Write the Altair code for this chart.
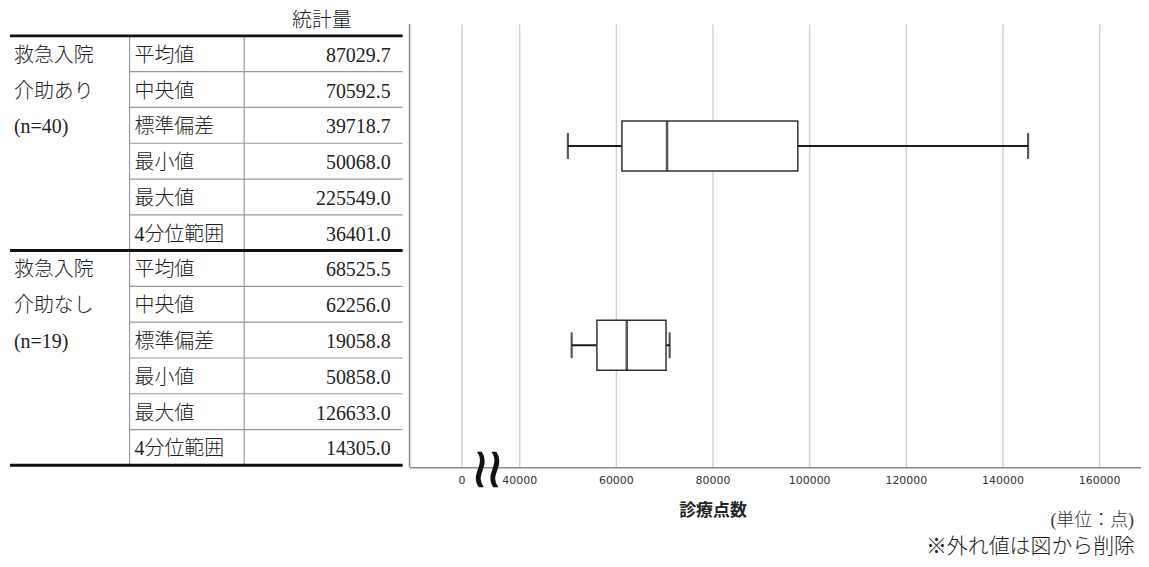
import altair as alt
import pandas as pd

# ---------------- data ----------------
groups = ["介助あり", "介助なし"]
group_label_lines = [["救急入院", "介助あり", "(n=40)"],
                     ["救急入院", "介助なし", "(n=19)"]]
stat_names = ["平均値", "中央値", "標準偏差", "最小値", "最大値", "4分位範囲"]
stats_ari = [87029.7, 70592.5, 39718.7, 50068.0, 225549.0, 36401.0]
stats_nashi = [68525.5, 62256.0, 19058.8, 50858.0, 126633.0, 14305.0]

# box plot (outliers removed)
whisker_low = [50068.0, 50858.0]
q1 = [61250.0, 56080.0]
median = [70592.5, 62256.0]
q3 = [97650.0, 70385.0]
whisker_high = [145300.0, 71130.0]

tick_values = [40000, 60000, 80000, 100000, 120000, 140000, 160000]

# broken axis: where "0" is drawn on the display scale
ZERO_POS = 28041
X_DOMAIN = [17320, 168660]

TXT = "#222222"
JP_SERIF = "Liberation Serif, Noto Sans CJK JP"

# ---------------- table ----------------
TW, H = 394, 445
ysc = alt.Scale(domain=[0, 12], range=[12, 443])

stat_rows, label_rows = [], []
for g, vals in enumerate([stats_ari, stats_nashi]):
    for i, (n, v) in enumerate(zip(stat_names, vals)):
        stat_rows.append({"r": g * 6 + i + 0.5, "name": n, "val": f"{v:.1f}"})
    for i, t in enumerate(group_label_lines[g]):
        label_rows.append({"r": g * 6 + i + 0.5, "text": t})
stat_df = pd.DataFrame(stat_rows)
label_df = pd.DataFrame(label_rows)

thin_df = pd.DataFrame({"b": [b for b in range(1, 12) if b != 6]})
thick_df = pd.DataFrame({"b": [0, 6, 12]})
vline_df = pd.DataFrame({"b0": [0], "b1": [12]})

base_t = alt.Chart(stat_df)

thin_lines = alt.Chart(thin_df).mark_rule(color="#9a9a9a", strokeWidth=1.2).encode(
    y=alt.Y("b:Q", scale=ysc, axis=None), x=alt.value(120), x2=alt.value(TW))
vlines = alt.Chart(vline_df).mark_rule(color="#9a9a9a", strokeWidth=1.2).encode(
    y=alt.Y("b0:Q", scale=ysc, axis=None), y2="b1:Q", x=alt.value(120))
vlines2 = alt.Chart(vline_df).mark_rule(color="#9a9a9a", strokeWidth=1.2).encode(
    y=alt.Y("b0:Q", scale=ysc, axis=None), y2="b1:Q", x=alt.value(235))
thick_lines = alt.Chart(thick_df).mark_rule(color="#111111", strokeWidth=3).encode(
    y=alt.Y("b:Q", scale=ysc, axis=None), x=alt.value(0), x2=alt.value(TW))

names_txt = base_t.mark_text(align="left", baseline="middle", dy=2, font=JP_SERIF,
                             fontSize=20, fontWeight=300, color=TXT).encode(
    y=alt.Y("r:Q", scale=ysc, axis=None), x=alt.value(125), text="name:N")
vals_txt = base_t.mark_text(align="right", baseline="middle", dy=2, font="Liberation Serif",
                            fontSize=20, color=TXT).encode(
    y=alt.Y("r:Q", scale=ysc, axis=None), x=alt.value(382), text="val:N")
labels_txt = alt.Chart(label_df).mark_text(align="left", baseline="middle", dy=2, font=JP_SERIF,
                                           fontSize=20, fontWeight=300, color=TXT).encode(
    y=alt.Y("r:Q", scale=ysc, axis=None), x=alt.value(4), text="text:N")
header = alt.Chart(pd.DataFrame({"t": ["統計量"]})).mark_text(
    align="center", baseline="middle", font=JP_SERIF, fontSize=20, fontWeight=300,
    color=TXT).encode(x=alt.value(313), y=alt.value(-3), text="t:N")

table = alt.layer(thin_lines, vlines, vlines2, thick_lines, names_txt, vals_txt,
                  labels_txt, header).properties(width=TW, height=H)

# ---------------- box plot ----------------
BW = 734
box_df = pd.DataFrame({"group": groups, "low": whisker_low, "q1": q1,
                       "med": median, "q3": q3, "high": whisker_high})
xsc = alt.Scale(domain=X_DOMAIN, nice=False, zero=False)
ysc_b = alt.Scale(type="point", domain=groups, padding=0.6125)
yenc = alt.Y("group:N", scale=ysc_b, axis=None, sort=groups)

label_expr = f"datum.value < {(ZERO_POS + 40000) / 2} ? '0' : format(datum.value, 'd')"
x_axis = alt.Axis(values=[ZERO_POS] + tick_values, labelExpr=label_expr,
                  grid=True, gridColor="#d2d2d2", gridWidth=1.5,
                  domainColor="#8a8a8a", domainWidth=1.5, ticks=False,
                  labelFont="DejaVu Sans", labelFontSize=11, labelColor="#333333",
                  labelPadding=7, title="診療点数", titleX=304, titleY=43,
                  titleAlign="center", titleBaseline="middle",
                  titleFont="Noto Sans CJK JP", titleFontSize=17,
                  titleFontWeight="bold", titleColor="#222222")


def xenc(field):
    return alt.X(field, type="quantitative", scale=xsc, axis=x_axis)


bb = alt.Chart(box_df)
whisk = bb.mark_rule(color="#1a1a1a", strokeWidth=2).encode(
    x=xenc("low"), x2="high:Q", y=yenc)
box = bb.mark_bar(size=50, fill="white", stroke="#333333", strokeWidth=1.5).encode(
    x=xenc("q1"), x2="q3:Q", y=yenc)
med = bb.mark_tick(size=50, thickness=2.5, color="#111111").encode(
    x=xenc("med"), y=yenc)
cap_lo = bb.mark_tick(size=26, thickness=2.2, color="#111111").encode(
    x=xenc("low"), y=yenc)
cap_hi = bb.mark_tick(size=26, thickness=2.2, color="#111111").encode(
    x=xenc("high"), y=yenc)

yaxis_line = alt.Chart(pd.DataFrame({"a": [0]})).mark_rule(
    color="#8a8a8a", strokeWidth=1.5).encode(x=alt.value(0), y=alt.value(0), y2=alt.value(H))
# axis-break mark: "≈" turned upright gives the two wavy strokes
brk = alt.Chart(pd.DataFrame({"t": ["≈"]})).mark_text(
    font="Liberation Sans", fontSize=72, color="#111111", align="center", baseline="middle",
    angle=90).encode(x=alt.value(77), y=alt.value(H + 2), text="t:N")
unit = alt.Chart(pd.DataFrame({"t": ["(単位：点)"]})).mark_text(
    font=JP_SERIF, fontSize=18, fontWeight=300, color="#333333", align="right",
    baseline="middle").encode(x=alt.value(727), y=alt.value(499), text="t:N")
note = alt.Chart(pd.DataFrame({"t": ["※外れ値は図から削除"]})).mark_text(
    font=JP_SERIF, fontSize=21, fontWeight=300, color=TXT, align="right",
    baseline="middle").encode(x=alt.value(728), y=alt.value(525), text="t:N")

boxplot = alt.layer(whisk, box, med, cap_lo, cap_hi, yaxis_line, brk, unit,
                    note).properties(width=BW, height=H)

chart = alt.hconcat(table, boxplot, spacing=7, bounds="flush").properties(
    padding={"left": 0, "top": 2, "right": 0, "bottom": 0}
).configure(background="white").configure_view(stroke=None)

chart.save("out.html", embed_options={"renderer": "svg", "actions": False})
